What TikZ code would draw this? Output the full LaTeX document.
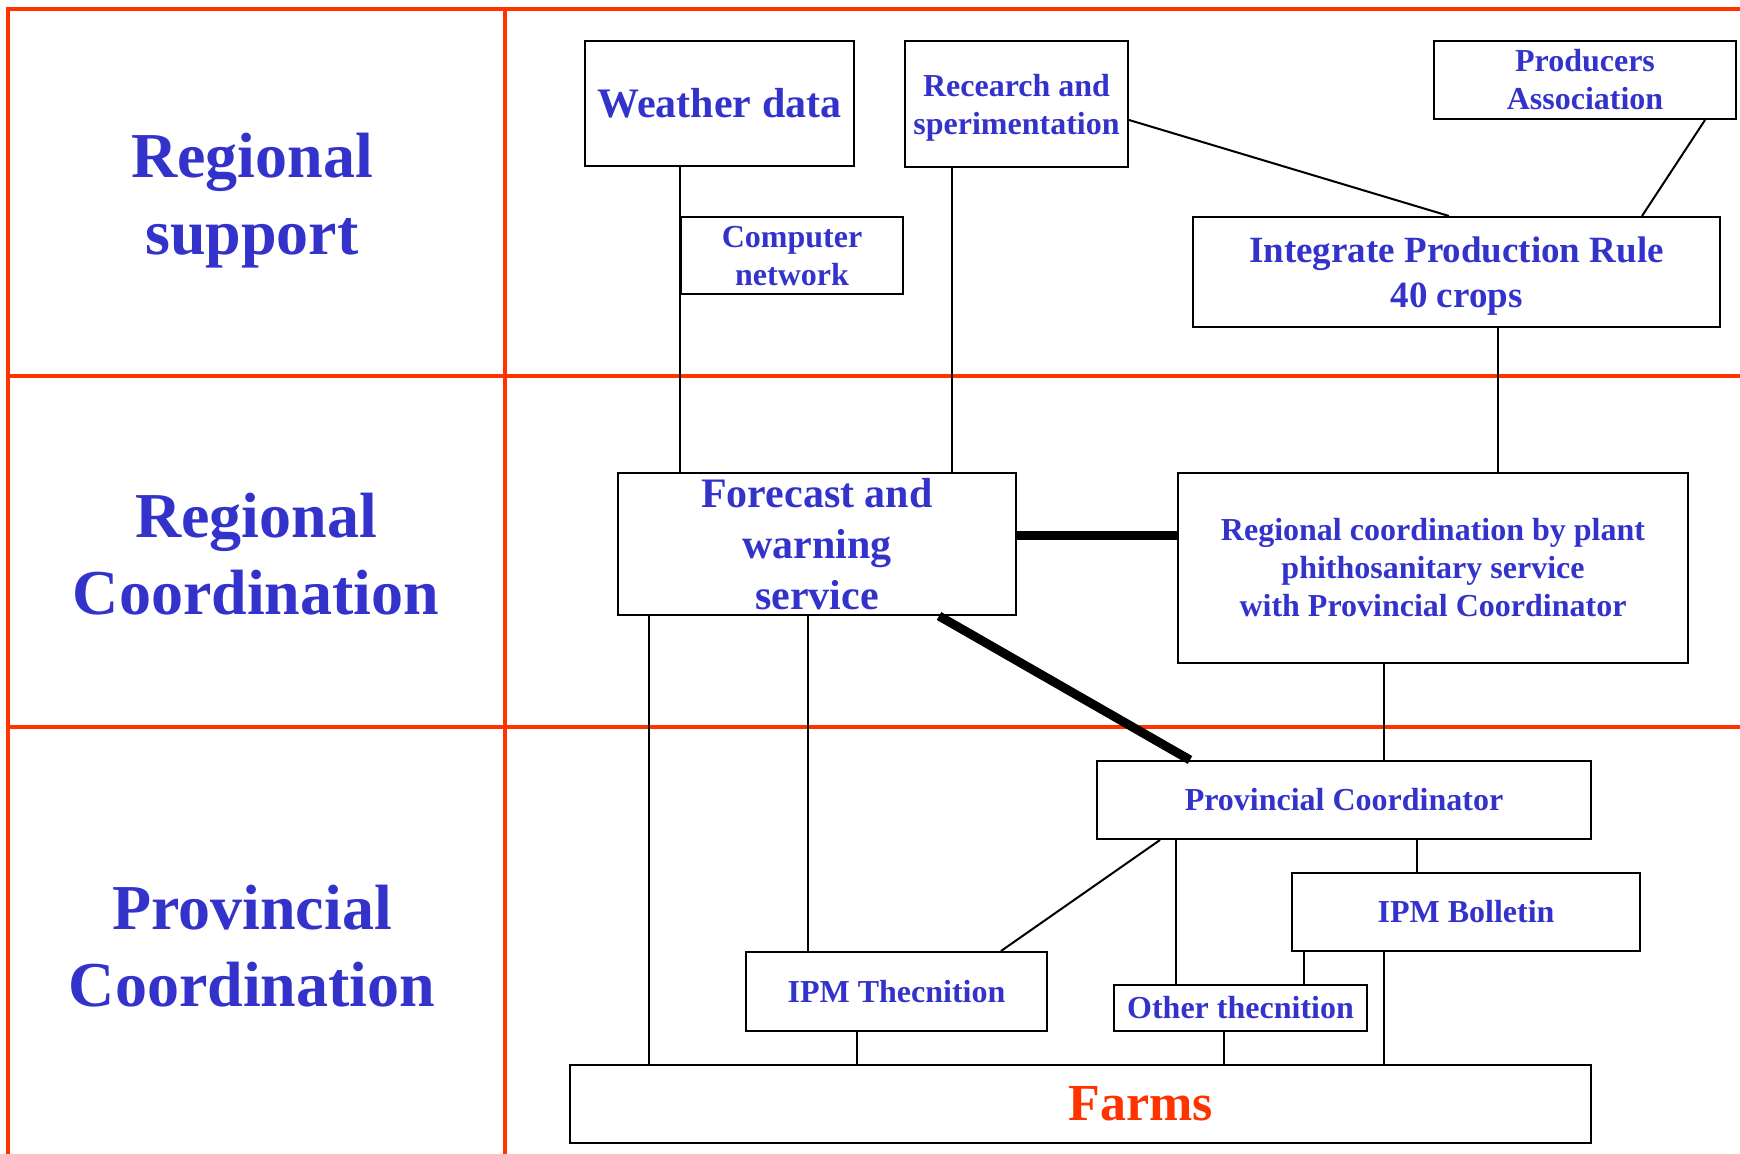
\documentclass[tikz,border=0pt]{standalone}
\usepackage{fontspec}
\setmainfont{Liberation Serif}
\usepackage{tikz}
\usetikzlibrary{positioning,calc}
\definecolor{txtblue}{HTML}{3333CC}
\definecolor{gridred}{HTML}{FF3300}

\tikzset{
	box/.style={draw, line width=1pt, inner sep=0pt, align=center, text=txtblue},
	rowlabel/.style={align=center, text=txtblue, font=\bfseries\fontsize{32}{38.5}\selectfont},
	small/.style={font=\bfseries\fontsize{16}{19}\selectfont},
	link/.style={line width=1pt},
	heavy/.style={line width=4.5pt},
}

\begin{document}
\begin{tikzpicture}[x=0.5pt,y=-0.5pt]
		\useasboundingbox (0,0) rectangle (1740,1154);
		% grid of the three levels
		\draw[gridred, line width=2pt] (8,1154) -- (8,9) -- (1740,9);
		\draw[gridred, line width=2pt] (505,9) -- (505,1154);
		\draw[gridred, line width=2pt] (8,376) -- (1740,376);
		\draw[gridred, line width=2pt] (8,727) -- (1740,727);
		
		\node[rowlabel] (rsup) at (252,201) {Regional\\support};
		\node[rowlabel] (rcoo) at (256,554) {Regional\\Coordination};
		\node[rowlabel] (pcoo) at (252,946) {Provincial\\Coordination};
		
		% regional support
		\node[box, minimum width=134.5pt, minimum height=62.5pt, font=\bfseries\fontsize{21}{25}\selectfont] (weather) at (719.5,103.5) {Weather data};
		\node[box, small, text depth=-3pt, minimum width=111pt, minimum height=38.5pt] (compnet) at (792,255.5) {Computer\\network};
		\node[box, small, text depth=0pt, minimum width=111.5pt, minimum height=63pt] (research) at (1016.5,104) {Recearch and\\sperimentation};
		\node[box, small, minimum width=151pt, minimum height=39pt] (producers) at (1585,80) {Producers\\Association};
		\node[box, text depth=0pt, minimum width=263.5pt, minimum height=55pt, font=\bfseries\fontsize{18.5}{22.5}\selectfont] (ipr) at (1456.5,272) {Integrate Production Rule\\40 crops};
		
		% regional coordination
		\node[box, minimum width=199pt, minimum height=71pt, font=\bfseries\fontsize{21}{25.5}\selectfont] (forecast) at (817,544) {Forecast and\\warning\\service};
		\node[box, small, minimum width=255pt, minimum height=95pt] (regcoord) at (1433,568) {Regional coordination by plant\\phithosanitary service\\with Provincial Coordinator};
		
		% provincial coordination
		\node[box, small, minimum width=247pt, minimum height=39pt] (provcoord) at (1344,800) {Provincial Coordinator};
		\node[box, small, minimum width=174pt, minimum height=39pt] (bolletin) at (1466,912) {IPM Bolletin};
		\node[box, small, minimum width=150.5pt, minimum height=39.5pt] (ipmtec) at (896.5,991.5) {IPM Thecnition};
		\node[box, small, minimum width=126.5pt, minimum height=23pt] (other) at (1240.5,1008) {Other thecnition};
		\node[box, minimum width=510.5pt, minimum height=39pt, text=gridred, font=\bfseries\fontsize{26}{30}\selectfont] (farms) at (1080.5,1104) {\hspace*{60pt}Farms};
		
		% connectors
		\draw[link] (compnet.west |- weather.south) -- (compnet.west |- forecast.north);
		\draw[link] ([xshift=-32.25pt]research.south) coordinate (r1) -- (r1 |- forecast.north);
		\draw[link] ([yshift=-8pt]research.east) -- ([xshift=-3.75pt]ipr.north);
		\draw[link] ([xshift=60pt]producers.south) -- ([xshift=92.75pt]ipr.north);
		\draw[link] ([xshift=20.75pt]ipr.south) coordinate (i1) -- (i1 |- regcoord.north);
		\draw[heavy] ([yshift=4pt]forecast.east) coordinate (f1) -- (f1 -| regcoord.west);
		\draw[heavy] ([xshift=61pt]forecast.south) -- ([xshift=-77pt]provcoord.north);
		\draw[link] ([xshift=-84pt]forecast.south) coordinate (f2) -- (f2 |- farms.north);
		\draw[link] ([xshift=-4.5pt]forecast.south) coordinate (f3) -- (f3 |- ipmtec.north);
		\draw[link] ([xshift=-24.5pt]regcoord.south) coordinate (g1) -- (g1 |- provcoord.north);
		\draw[link] ([xshift=-92pt]provcoord.south) -- ([xshift=52.25pt]ipmtec.north);
		\draw[link] ([xshift=-84pt]provcoord.south) coordinate (p1) -- (p1 |- other.north);
		\draw[link] ([xshift=36.5pt]provcoord.south) coordinate (p2) -- (p2 |- bolletin.north);
		\draw[link] ([xshift=-81pt]bolletin.south) coordinate (b1) -- (b1 |- other.north);
		\draw[link] ([xshift=-41pt]bolletin.south) coordinate (b2) -- (b2 |- farms.north);
		\draw[link] ([xshift=-19.75pt]ipmtec.south) coordinate (t1) -- (t1 |- farms.north);
		\draw[link] ([xshift=-8.25pt]other.south) coordinate (o1) -- (o1 |- farms.north);
	\end{tikzpicture}
\end{document}
